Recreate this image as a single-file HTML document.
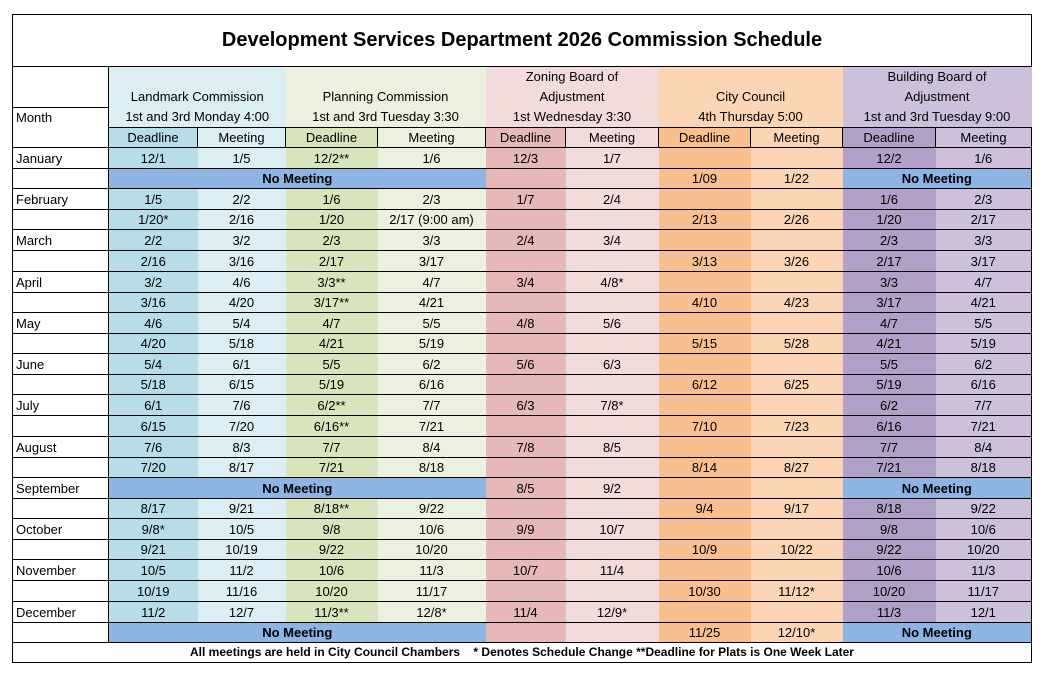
<!DOCTYPE html>
<html><head><meta charset="utf-8"><style>
body{margin:0;background:#fff;width:1046px;height:675px;overflow:hidden}
table{position:absolute;left:12px;top:14px;border-collapse:collapse;table-layout:fixed;width:1019px;font-family:"Liberation Sans",sans-serif;font-size:13px;color:#000}
td{padding:0;border-top:1px solid #000;border-bottom:1px solid #000;text-align:center;white-space:nowrap;overflow:hidden;line-height:19px;height:19px}
td.m{text-align:left;padding-left:3px;border-left:1px solid #000;border-right:1px solid #000;background:#fff}
td.r{border-right:1px solid #000}
.t{font-weight:bold;font-size:20px;height:51px;border:1px solid #000;background:#fff}
.f{font-weight:bold;font-size:12px;border:1px solid #000;background:#fff}
.h td{line-height:20px}
.sub td{border-right:1px solid #000;height:19px;line-height:19px}
.a{background:#b7dee8}.b{background:#daeef3}
.c{background:#d8e4bc}.d{background:#ebf1de}
.e{background:#e6b8b7}.g{background:#f2dcdb}
.i{background:#fabf8f}.j{background:#fcd5b4}
.k{background:#b1a0c7}.l{background:#ccc0da}
.n{background:#8db4e2;font-weight:bold}
tr.x td,tr.y td{height:20px}
</style></head><body>
<table>
<colgroup><col style="width:96px"><col style="width:89px"><col style="width:88px"><col style="width:92px"><col style="width:108px"><col style="width:80px"><col style="width:93px"><col style="width:92px"><col style="width:92px"><col style="width:93px"><col style="width:96px"></colgroup>
<tr><td colspan="11" class="t">Development Services Department 2026 Commission Schedule</td></tr>
<tr class="h"><td class="m" style="height:40px"></td>
<td colspan="2" rowspan="2" class="b" style="vertical-align:bottom">Landmark Commission<br>1st and 3rd Monday 4:00</td>
<td colspan="2" rowspan="2" class="d" style="vertical-align:bottom">Planning Commission<br>1st and 3rd Tuesday 3:30</td>
<td colspan="2" rowspan="2" class="g" style="vertical-align:bottom">Zoning Board of<br>Adjustment<br>1st Wednesday 3:30</td>
<td colspan="2" rowspan="2" class="j" style="vertical-align:bottom">City Council<br>4th Thursday 5:00</td>
<td colspan="2" rowspan="2" class="l" style="vertical-align:bottom">Building Board of<br>Adjustment<br>1st and 3rd Tuesday 9:00</td></tr>
<tr class="h"><td class="m" rowspan="2" style="vertical-align:top;height:20px">Month</td></tr>
<tr class="sub"><td class="a">Deadline</td><td class="b">Meeting</td><td class="c">Deadline</td><td class="d">Meeting</td><td class="e">Deadline</td><td class="g">Meeting</td><td class="i">Deadline</td><td class="j">Meeting</td><td class="k">Deadline</td><td class="l">Meeting</td></tr>
<tr class="x"><td class="m">January</td><td class="a">12/1</td><td class="b">1/5</td><td class="c">12/2**</td><td class="d">1/6</td><td class="e">12/3</td><td class="g">1/7</td><td class="i"></td><td class="j"></td><td class="k">12/2</td><td class="l r">1/6</td></tr>
<tr><td class="m"></td><td colspan="4" class="n">No Meeting</td><td class="e"></td><td class="g"></td><td class="i">1/09</td><td class="j">1/22</td><td colspan="2" class="n r">No Meeting</td></tr>
<tr class="x"><td class="m">February</td><td class="a">1/5</td><td class="b">2/2</td><td class="c">1/6</td><td class="d">2/3</td><td class="e">1/7</td><td class="g">2/4</td><td class="i"></td><td class="j"></td><td class="k">1/6</td><td class="l r">2/3</td></tr>
<tr><td class="m"></td><td class="a">1/20*</td><td class="b">2/16</td><td class="c">1/20</td><td class="d">2/17 (9:00 am)</td><td class="e"></td><td class="g"></td><td class="i">2/13</td><td class="j">2/26</td><td class="k">1/20</td><td class="l r">2/17</td></tr>
<tr class="x"><td class="m">March</td><td class="a">2/2</td><td class="b">3/2</td><td class="c">2/3</td><td class="d">3/3</td><td class="e">2/4</td><td class="g">3/4</td><td class="i"></td><td class="j"></td><td class="k">2/3</td><td class="l r">3/3</td></tr>
<tr class="y"><td class="m"></td><td class="a">2/16</td><td class="b">3/16</td><td class="c">2/17</td><td class="d">3/17</td><td class="e"></td><td class="g"></td><td class="i">3/13</td><td class="j">3/26</td><td class="k">2/17</td><td class="l r">3/17</td></tr>
<tr class="x"><td class="m">April</td><td class="a">3/2</td><td class="b">4/6</td><td class="c">3/3**</td><td class="d">4/7</td><td class="e">3/4</td><td class="g">4/8*</td><td class="i"></td><td class="j"></td><td class="k">3/3</td><td class="l r">4/7</td></tr>
<tr><td class="m"></td><td class="a">3/16</td><td class="b">4/20</td><td class="c">3/17**</td><td class="d">4/21</td><td class="e"></td><td class="g"></td><td class="i">4/10</td><td class="j">4/23</td><td class="k">3/17</td><td class="l r">4/21</td></tr>
<tr class="x"><td class="m">May</td><td class="a">4/6</td><td class="b">5/4</td><td class="c">4/7</td><td class="d">5/5</td><td class="e">4/8</td><td class="g">5/6</td><td class="i"></td><td class="j"></td><td class="k">4/7</td><td class="l r">5/5</td></tr>
<tr><td class="m"></td><td class="a">4/20</td><td class="b">5/18</td><td class="c">4/21</td><td class="d">5/19</td><td class="e"></td><td class="g"></td><td class="i">5/15</td><td class="j">5/28</td><td class="k">4/21</td><td class="l r">5/19</td></tr>
<tr class="x"><td class="m">June</td><td class="a">5/4</td><td class="b">6/1</td><td class="c">5/5</td><td class="d">6/2</td><td class="e">5/6</td><td class="g">6/3</td><td class="i"></td><td class="j"></td><td class="k">5/5</td><td class="l r">6/2</td></tr>
<tr><td class="m"></td><td class="a">5/18</td><td class="b">6/15</td><td class="c">5/19</td><td class="d">6/16</td><td class="e"></td><td class="g"></td><td class="i">6/12</td><td class="j">6/25</td><td class="k">5/19</td><td class="l r">6/16</td></tr>
<tr class="x"><td class="m">July</td><td class="a">6/1</td><td class="b">7/6</td><td class="c">6/2**</td><td class="d">7/7</td><td class="e">6/3</td><td class="g">7/8*</td><td class="i"></td><td class="j"></td><td class="k">6/2</td><td class="l r">7/7</td></tr>
<tr class="y"><td class="m"></td><td class="a">6/15</td><td class="b">7/20</td><td class="c">6/16**</td><td class="d">7/21</td><td class="e"></td><td class="g"></td><td class="i">7/10</td><td class="j">7/23</td><td class="k">6/16</td><td class="l r">7/21</td></tr>
<tr class="x"><td class="m">August</td><td class="a">7/6</td><td class="b">8/3</td><td class="c">7/7</td><td class="d">8/4</td><td class="e">7/8</td><td class="g">8/5</td><td class="i"></td><td class="j"></td><td class="k">7/7</td><td class="l r">8/4</td></tr>
<tr><td class="m"></td><td class="a">7/20</td><td class="b">8/17</td><td class="c">7/21</td><td class="d">8/18</td><td class="e"></td><td class="g"></td><td class="i">8/14</td><td class="j">8/27</td><td class="k">7/21</td><td class="l r">8/18</td></tr>
<tr class="x"><td class="m">September</td><td colspan="4" class="n">No Meeting</td><td class="e">8/5</td><td class="g">9/2</td><td class="i"></td><td class="j"></td><td colspan="2" class="n r">No Meeting</td></tr>
<tr><td class="m"></td><td class="a">8/17</td><td class="b">9/21</td><td class="c">8/18**</td><td class="d">9/22</td><td class="e"></td><td class="g"></td><td class="i">9/4</td><td class="j">9/17</td><td class="k">8/18</td><td class="l r">9/22</td></tr>
<tr class="x"><td class="m">October</td><td class="a">9/8*</td><td class="b">10/5</td><td class="c">9/8</td><td class="d">10/6</td><td class="e">9/9</td><td class="g">10/7</td><td class="i"></td><td class="j"></td><td class="k">9/8</td><td class="l r">10/6</td></tr>
<tr><td class="m"></td><td class="a">9/21</td><td class="b">10/19</td><td class="c">9/22</td><td class="d">10/20</td><td class="e"></td><td class="g"></td><td class="i">10/9</td><td class="j">10/22</td><td class="k">9/22</td><td class="l r">10/20</td></tr>
<tr class="x"><td class="m">November</td><td class="a">10/5</td><td class="b">11/2</td><td class="c">10/6</td><td class="d">11/3</td><td class="e">10/7</td><td class="g">11/4</td><td class="i"></td><td class="j"></td><td class="k">10/6</td><td class="l r">11/3</td></tr>
<tr class="y"><td class="m"></td><td class="a">10/19</td><td class="b">11/16</td><td class="c">10/20</td><td class="d">11/17</td><td class="e"></td><td class="g"></td><td class="i">10/30</td><td class="j">11/12*</td><td class="k">10/20</td><td class="l r">11/17</td></tr>
<tr class="x"><td class="m">December</td><td class="a">11/2</td><td class="b">12/7</td><td class="c">11/3**</td><td class="d">12/8*</td><td class="e">11/4</td><td class="g">12/9*</td><td class="i"></td><td class="j"></td><td class="k">11/3</td><td class="l r">12/1</td></tr>
<tr><td class="m"></td><td colspan="4" class="n">No Meeting</td><td class="e"></td><td class="g"></td><td class="i">11/25</td><td class="j">12/10*</td><td colspan="2" class="n r">No Meeting</td></tr>
<tr><td colspan="11" class="f">All meetings are held in City Council Chambers &nbsp;&nbsp; * Denotes Schedule Change **Deadline for Plats is One Week Later</td></tr>
</table>
</body></html>
